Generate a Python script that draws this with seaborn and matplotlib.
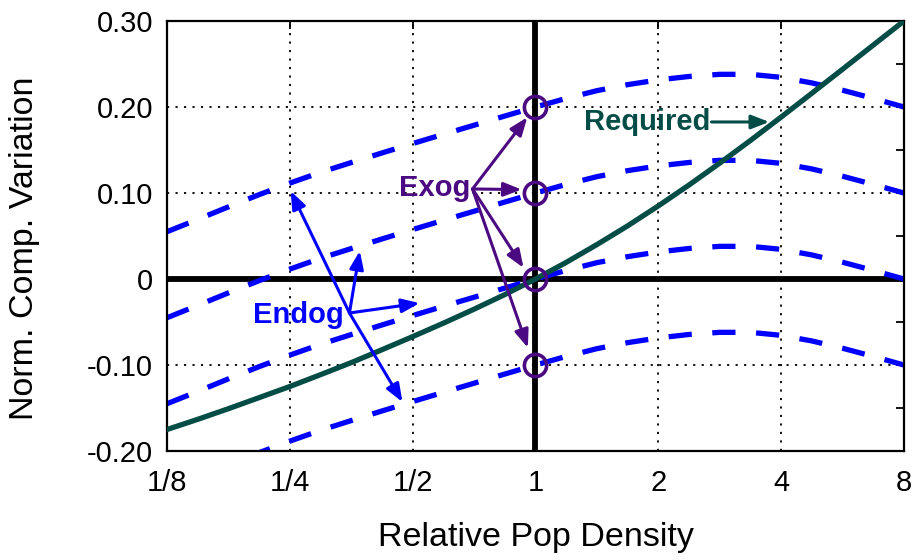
import numpy as np
import pandas as pd
import matplotlib
matplotlib.use("Agg")
import matplotlib.pyplot as plt
import seaborn as sns

# ---------------- data ----------------
density = [0.125, 0.149, 0.177, 0.210, 0.25, 0.297, 0.354, 0.420, 0.5, 0.595, 0.707, 0.841,
           1.0, 1.189, 1.414, 1.682, 2.0, 2.378, 2.828, 3.364, 4.0, 4.757, 5.657, 6.727, 8.0]
endog_p20 = [0.055, 0.0695, 0.084, 0.098, 0.1115, 0.124, 0.1355, 0.1465, 0.1575, 0.1683, 0.1788, 0.1895,
             0.200, 0.210, 0.219, 0.226, 0.2315, 0.2355, 0.238, 0.238, 0.2345, 0.228, 0.2195, 0.210, 0.200]
endog_p10 = [-0.045, -0.0305, -0.016, -0.002, 0.0115, 0.024, 0.0355, 0.0465, 0.0575, 0.0683, 0.0788, 0.0895,
             0.100, 0.110, 0.119, 0.126, 0.1315, 0.1355, 0.138, 0.138, 0.1345, 0.128, 0.1195, 0.110, 0.100]
endog_00 = [-0.145, -0.1305, -0.116, -0.102, -0.0885, -0.076, -0.0645, -0.0535, -0.0425, -0.0317, -0.0212, -0.0105,
            0.000, 0.010, 0.019, 0.026, 0.0315, 0.0355, 0.038, 0.038, 0.0345, 0.028, 0.0195, 0.010, 0.000]
endog_m10 = [-0.245, -0.2305, -0.216, -0.202, -0.1885, -0.176, -0.1645, -0.1535, -0.1425, -0.1317, -0.1212, -0.1105,
             -0.100, -0.090, -0.081, -0.074, -0.0685, -0.0645, -0.062, -0.062, -0.0655, -0.072, -0.0805, -0.090, -0.100]
required = [-0.175, -0.1630, -0.1507, -0.1380, -0.1250, -0.1113, -0.0971, -0.0823, -0.0670, -0.0513, -0.0351, -0.0181,
            0.000, 0.0193, 0.0400, 0.0618, 0.0850, 0.1093, 0.1347, 0.1611, 0.1883, 0.2160, 0.2439, 0.2720, 0.300]

exog_x = [1, 1, 1, 1]
exog_y = [0.20, 0.10, 0.00, -0.10]

x_ticks = [1/8, 1/4, 1/2, 1, 2, 4, 8]
x_ticklabels = ["1/8", "1/4", "1/2", "1", "2", "4", "8"]
y_ticks = [-0.20, -0.10, 0.0, 0.10, 0.20, 0.30]
y_ticklabels = ["-0.20", "-0.10", "0", "0.10", "0.20", "0.30"]

BLUE = "#0000FF"
PURPLE = "#4B0A82"
TEAL = "#044C46"

sns.set_theme(style="white")
plt.rcParams["font.family"] = ["Liberation Sans", "DejaVu Sans"]

fig = plt.figure(figsize=(9.13, 5.6), dpi=100)
ax = fig.add_axes([0.1829, 0.1946, 0.8072, 0.7679])
ax.set_xscale("log", base=2)

n = len(density)
df_endog = pd.DataFrame({
    "density": density * 4,
    "value": endog_p20 + endog_p10 + endog_00 + endog_m10,
    "curve": ["p20"] * n + ["p10"] * n + ["p00"] * n + ["m10"] * n,
})

# grid
for xt in x_ticks:
    ax.axvline(xt, color="black", lw=1.3, ls=(0, (1.2, 3.5)), zorder=0.5)
for yt in y_ticks:
    ax.axhline(yt, color="black", lw=1.3, ls=(0, (1.2, 3.5)), zorder=0.5)

# bold axes at x=1, y=0
ax.axvline(1, color="black", lw=4.2, zorder=1)
ax.axhline(0, color="black", lw=4.2, zorder=1)

n_before = len(ax.get_lines())
sns.lineplot(data=df_endog, x="density", y="value", units="curve", estimator=None,
             color=BLUE, lw=3.8, ax=ax, zorder=2, sort=False)
for ln in ax.get_lines()[n_before:]:
    ln.set_dashes((4.4, 3.9))
    ln.set_dash_capstyle("butt")

sns.lineplot(x=density, y=required, color=TEAL, lw=3.8, ax=ax, zorder=3, sort=False)
ax.get_lines()[-1].set_solid_joinstyle("round")

ax.plot(exog_x, exog_y, ls="none", marker="o", ms=16, mfc="none",
        mec=PURPLE, mew=2.6, zorder=4)

# annotations
fs = 21
astyle = "-|>,head_length=0.9,head_width=0.35"
ax.text(0.566, 0.106, "Exog", color=PURPLE, fontsize=fs, fontweight="bold",
        ha="center", va="center", zorder=5)
exog_origin = (0.701, 0.1047)
for tip in [(0.955, 0.188), (0.925, 0.104), (0.935, 0.013), (0.958, -0.080)]:
    ax.annotate("", xy=tip, xytext=exog_origin,
                arrowprops=dict(arrowstyle=astyle, color=PURPLE, lw=2.2,
                                shrinkA=0, shrinkB=0), zorder=5)

ax.text(0.262, -0.042, "Endog", color=BLUE, fontsize=fs, fontweight="bold",
        ha="center", va="center", zorder=5)
endog_origin = (0.350, -0.0395)
for tip in [(0.2512, 0.1023), (0.371, 0.0326), (0.520, -0.028), (0.472, -0.143)]:
    ax.annotate("", xy=tip, xytext=endog_origin,
                arrowprops=dict(arrowstyle=astyle, color=BLUE, lw=2.2,
                                shrinkA=0, shrinkB=0), zorder=5)

ax.text(1.88, 0.1826, "Required", color=TEAL, fontsize=fs, fontweight="bold",
        ha="center", va="center", zorder=5)
ax.annotate("", xy=(3.74, 0.1826), xytext=(2.70, 0.1826),
            arrowprops=dict(arrowstyle=astyle, color=TEAL, lw=2.2,
                            shrinkA=0, shrinkB=0), zorder=5)

# axes
ax.set_xlim(1/8, 8)
ax.set_ylim(-0.20, 0.30)
ax.set_xticks(x_ticks)
ax.set_xticklabels(x_ticklabels)
ax.xaxis.set_minor_locator(matplotlib.ticker.NullLocator())
ax.set_yticks(y_ticks)
ax.set_yticklabels(y_ticklabels)
ax.set_yticks(np.arange(-0.15, 0.30, 0.1), minor=True)
ax.tick_params(axis="both", which="both", direction="in", colors="black",
               top=True, right=True, labelsize=21)
ax.tick_params(axis="x", which="major", length=6, width=1.3, pad=13)
ax.tick_params(axis="y", which="major", length=6, width=1.3, pad=10)
ax.tick_params(axis="y", which="minor", length=6, width=1.3)
for sp in ax.spines.values():
    sp.set_color("black")
    sp.set_linewidth(1.6)

ax.set_xlabel("Relative Pop Density", fontsize=24.5, color="black")
ax.set_ylabel("Norm. Comp. Variation", fontsize=24.5, color="black")
ax.xaxis.label.set_verticalalignment("center")
ax.yaxis.label.set_verticalalignment("center")
ax.xaxis.set_label_coords(0.5, -0.202)
ax.yaxis.set_label_coords(-0.193, 0.471)
ax.grid(False)

fig.savefig("out.png", dpi=100)
